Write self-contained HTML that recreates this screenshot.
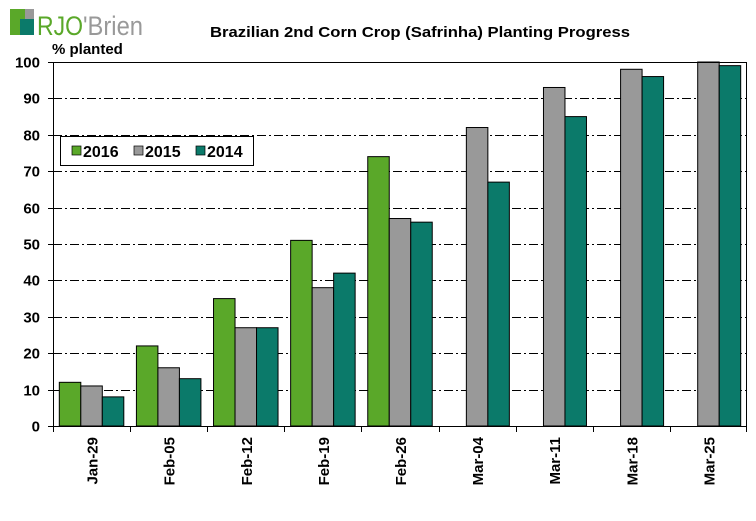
<!DOCTYPE html>
<html><head><meta charset="utf-8"><style>
body{margin:0;background:#fff;}
svg text{font-family:"Liberation Sans",Arial,sans-serif;}
</style></head><body>
<svg id="chart" width="756" height="516" viewBox="0 0 756 516" xmlns="http://www.w3.org/2000/svg">
  <g>
    <rect x="10" y="9" width="12" height="26" fill="#5aa829"/>
    <rect x="10" y="9" width="24" height="10" fill="#5aa829"/>
    <rect x="20" y="19" width="14" height="16" fill="#0b7a6a"/>
    <rect x="25" y="9" width="9" height="10" fill="#999"/>
    <text x="37" y="35" font-size="27" fill="#5aa829" textLength="46" lengthAdjust="spacingAndGlyphs">RJO</text>
    <text x="83" y="35" font-size="27" fill="#999" textLength="60" lengthAdjust="spacingAndGlyphs">'Brien</text>
  </g>
  <text x="210" y="37" font-size="15" font-weight="bold" fill="#000" textLength="420" lengthAdjust="spacingAndGlyphs">Brazilian 2nd Corn Crop (Safrinha) Planting Progress</text>
  <text x="52" y="54" font-size="15" font-weight="bold" fill="#000">% planted</text>
  <g id="grid"></g>
  <g id="bars"></g>
  <g id="axes"></g>
  <g>
    <rect x="60.5" y="136.5" width="193" height="29" fill="#fff" stroke="#000"/>
    <rect x="72" y="146" width="9" height="9" fill="#5aa829" stroke="#000" stroke-width="0.7"/>
    <text x="83" y="157" font-size="16" font-weight="bold">2016</text>
    <rect x="134" y="146" width="9" height="9" fill="#999" stroke="#000" stroke-width="0.7"/>
    <text x="145" y="157" font-size="16" font-weight="bold">2015</text>
    <rect x="196" y="146" width="9" height="9" fill="#0b7a6a" stroke="#000" stroke-width="0.7"/>
    <text x="207" y="157" font-size="16" font-weight="bold">2014</text>
  </g>
</svg>
<script>
const categories=["Jan-29","Feb-05","Feb-12","Feb-19","Feb-26","Mar-04","Mar-11","Mar-18","Mar-25"];
const s2016=[12,22,35,51,74,null,null,null,null];
const s2015=[11,16,27,38,57,82,93,98,100];
const s2014=[8,13,27,42,56,67,85,96,99];
const yTicks=[0,10,20,30,40,50,60,70,80,90,100];
const seriesNames=["2016","2015","2014"];

const NS="http://www.w3.org/2000/svg";
const L=53,R=747,T=62,B=426;
const gw=(R-L)/categories.length;
const y=v=>B-(v/100)*(B-T);
const xg=i=>L+i*gw;
function mk(tag,attrs,parent){const e=document.createElementNS(NS,tag);for(const k in attrs)e.setAttribute(k,attrs[k]);parent.appendChild(e);return e;}
const grid=document.getElementById('grid'),bars=document.getElementById('bars'),axes=document.getElementById('axes');
yTicks.forEach(t=>{
  const yy=Math.round(y(t))+0.5;
  if(t>0&&t<100){const g=mk('line',{x1:L,x2:R,y1:yy,y2:yy,stroke:'#000','stroke-width':1,'stroke-dasharray':'9,3,2,3'},grid);
  
  }
  const tk=mk('line',{x1:L-5,x2:L,y1:yy,y2:yy,stroke:'#000'},axes);
  
  
  const lb=mk('text',{x:L-13,y:yy+5,'font-size':15,'font-weight':'bold','text-anchor':'end'},axes);
  lb.textContent=t;
  
  
});
const frame=mk('rect',{x:L+0.5,y:T+0.5,width:R-L-1,height:B-T,fill:'none',stroke:'#000'},axes);


const series=[s2016,s2015,s2014],colors=['#5aa829','#999999','#0b7a6a'];
const bw=21.5,pad=(gw-3*bw)/2;
categories.forEach((c,i)=>{
  series.forEach((s,j)=>{
    const v=s[i]; if(v==null)return;
    const r=mk('rect',{x:xg(i)+pad+j*bw,y:y(v),width:bw,height:B-y(v),fill:colors[j],stroke:'#000','stroke-width':1},bars);
    
    
  });
  const tx=Math.round(xg(i))+0.5;
  const tk=mk('line',{x1:tx,x2:tx,y1:B,y2:B+6,stroke:'#000'},axes);
  
  
  const cx=xg(i)+gw/2+6;
  const lb=mk('text',{x:0,y:0,'font-size':15,'font-weight':'bold','text-anchor':'end',transform:`translate(${cx},${B+11}) rotate(-90)`},axes);
  lb.textContent=c;
  
  
});
const lt=Math.round(R)-0.5;
const lastTick=mk('line',{x1:lt,x2:lt,y1:B,y2:B+6,stroke:'#000'},axes);


</script>
</body></html>
